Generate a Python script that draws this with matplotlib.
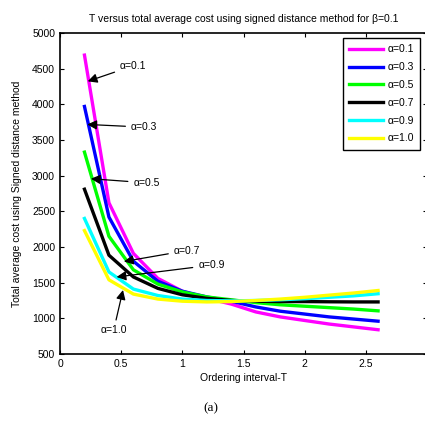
import matplotlib.pyplot as plt
import numpy as np

T = [0.2, 0.4, 0.6, 0.8, 1.0, 1.2, 1.4, 1.6, 1.8, 2.0, 2.2, 2.4, 2.6]

cost_a01 = [4690, 2620, 1910, 1560, 1380, 1280, 1200, 1090, 1020, 970, 920, 880, 840]
cost_a03 = [3970, 2420, 1800, 1520, 1380, 1300, 1240, 1160, 1100, 1060, 1020, 990, 960]
cost_a05 = [3330, 2150, 1680, 1480, 1370, 1300, 1260, 1220, 1190, 1170, 1150, 1130, 1105]
cost_a07 = [2810, 1885, 1580, 1420, 1330, 1280, 1250, 1240, 1235, 1235, 1232, 1230, 1230]
cost_a09 = [2400, 1650, 1410, 1320, 1270, 1250, 1245, 1250, 1260, 1275, 1295, 1315, 1345]
cost_a10 = [2230, 1540, 1340, 1270, 1240, 1230, 1235, 1250, 1270, 1295, 1325, 1355, 1390]

labels = ['α=0.1', 'α=0.3', 'α=0.5', 'α=0.7', 'α=0.9', 'α=1.0']
colors = ['#ff00ff', '#0000ff', '#00ff00', '#000000', '#00ffff', '#ffff00']
series = [cost_a01, cost_a03, cost_a05, cost_a07, cost_a09, cost_a10]

plt.rcParams['font.family'] = ['Liberation Sans', 'DejaVu Sans']

fig = plt.figure(figsize=(4.25, 4.26), dpi=100)
ax = fig.add_axes([60/425, 72/426, 367/425, 321/426])

for y, c, lab in zip(series, colors, labels):
    ax.plot(T, y, color=c, lw=2.4, label=lab)

ax.set_xlim(0, 3)
ax.set_ylim(500, 5000)
ax.set_xticks([0, 0.5, 1, 1.5, 2, 2.5, 3])
# the x=3 label falls outside the saved image in the original
ax.set_xticklabels(['0', '0.5', '1', '1.5', '2', '2.5', ''])
ax.set_yticks(np.arange(500, 5001, 500))
ax.tick_params(direction='in', top=True, right=True, labelsize=7.5, length=3, width=0.8)
for s in ax.spines.values():
    s.set_linewidth(1.2)

ax.set_title('T versus total average cost using signed distance method for β=0.1',
             fontsize=7.5, pad=8)
ax.set_xlabel('Ordering interval-T', fontsize=7.5, labelpad=3)
ax.set_ylabel('Total average cost using Signed distance method', fontsize=7.5, labelpad=7)

arrow = dict(arrowstyle='-|>', color='k', lw=0.9, mutation_scale=14)
notes = [
    ('α=0.1', (0.205, 4310), (0.49, 4540)),
    ('α=0.3', (0.2, 3720), (0.58, 3680)),
    ('α=0.5', (0.23, 2960), (0.6, 2900)),
    ('α=0.7', (0.5, 1790), (0.93, 1950)),
    ('α=0.9', (0.44, 1575), (1.13, 1745)),
    ('α=1.0', (0.52, 1435), (0.33, 830)),
]
for txt, tip, pos in notes:
    ax.annotate(txt, xy=tip, xytext=pos, fontsize=7.5, va='center', ha='left',
                arrowprops=arrow)

leg = ax.legend(loc='upper left', bbox_to_anchor=(0.771, 0.984), borderaxespad=0,
                fontsize=7.5, fancybox=False, edgecolor='k', framealpha=1,
                handlelength=3.2, handletextpad=0.45, labelspacing=0.75,
                borderpad=0.6)
leg.get_frame().set_linewidth(1.0)

fig.text(0.495, 18/426, '(a)', ha='center', va='center', fontsize=9.5,
         family='Liberation Serif')

fig.savefig('out.png', dpi=100)
